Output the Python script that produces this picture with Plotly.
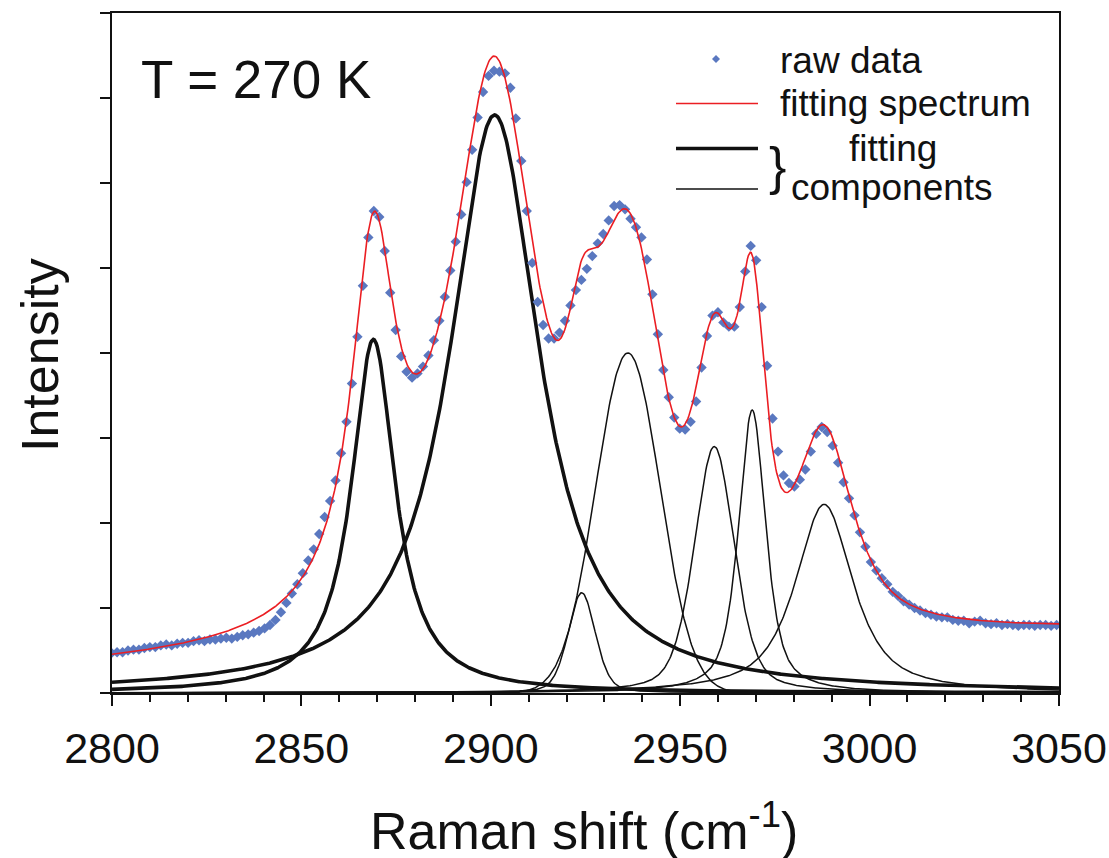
import numpy as np
import plotly.graph_objects as go

# ---- data ----
# raw spectrum: uniformly sampled, first point and step (cm-1), intensities in y-tick units
raw_x0 = 2799.9
raw_step = 1.442
raw_y = [
    0.47, 0.48, 0.48, 0.50, 0.51, 0.51, 0.53, 0.54, 0.54, 0.56,
    0.57, 0.56, 0.58, 0.59, 0.59, 0.61, 0.62, 0.61, 0.63, 0.63,
    0.64, 0.65, 0.64, 0.66, 0.68, 0.69, 0.71, 0.73, 0.76, 0.80,
    0.86, 0.95, 1.06,
    1.17, 1.28, 1.41, 1.56, 1.69, 1.87, 2.07, 2.26, 2.50, 2.82,
    3.19, 3.64, 4.19, 4.79, 5.36, 5.67, 5.60, 5.20, 4.71, 4.27,
    3.96, 3.78, 3.71, 3.76, 3.84, 3.97, 4.15, 4.38, 4.66, 4.97,
    5.31, 5.63, 6.01, 6.39, 6.77, 7.07, 7.26, 7.32, 7.31, 7.29,
    7.12, 6.76, 6.26, 5.67, 5.06, 4.60, 4.33, 4.17, 4.17, 4.24,
    4.38, 4.56, 4.74, 4.86, 4.99, 5.14, 5.29, 5.40, 5.56, 5.73,
    5.74, 5.69, 5.58, 5.48, 5.36, 5.10, 4.69, 4.22, 3.80, 3.48,
    3.24, 3.11, 3.10, 3.19, 3.43, 3.83, 4.20, 4.44, 4.48, 4.36,
    4.31, 4.31, 4.54, 4.96, 5.26, 5.09, 4.54, 3.85, 3.23, 2.84,
    2.56, 2.47, 2.43, 2.51, 2.63, 2.84, 3.05, 3.13, 3.07, 2.91,
    2.71, 2.48, 2.29, 2.09, 1.89, 1.72, 1.54, 1.44, 1.35, 1.28,
    1.19, 1.14, 1.08, 1.04, 1.00, 0.97, 0.94, 0.92, 0.90, 0.89,
    0.89, 0.86, 0.85, 0.85, 0.82,
    0.84, 0.85, 0.82, 0.81, 0.82, 0.80, 0.81, 0.80, 0.79, 0.80,
    0.80, 0.79, 0.80, 0.80, 0.79, 0.80,
]

# fitted peak table: centre (cm-1), height (y tick units), FWHM (cm-1), Lorentz fraction
peak_centres = [2869.0, 2901.0, 2924.0, 2936.2, 2959.0, 2969.0, 2988.0]
peak_heights = [4.16, 6.80, 1.18, 4.00, 2.90, 3.33, 2.22]
peak_fwhm = [14.0, 28.5, 8.5, 20.0, 12.5, 8.5, 18.0]
peak_eta = [1.0, 0.95, 0.3, 0.0, 0.4, 0.65, 0.8]
peak_thick = [True, True, False, False, False, False, False]
baseline_ends = [0.28, 0.70]          # linear background at 2800 and 3050
x_range = [2800, 3050]
x_ticks = [2800, 2850, 2900, 2950, 3000, 3050]

FONT = "Liberation Sans, Arial, sans-serif"
INK = "#111111"
RED = "rgb(235,30,35)"
BLUE = "#5a78c0"

raw_x = raw_x0 + raw_step * np.arange(len(raw_y))
xg = np.linspace(x_range[0], x_range[1], 1001)


def pv(x, c, h, f, eta):
    w = f / 2.0
    u = (x - c) / w
    return h * (eta / (1 + u ** 2) + (1 - eta) * np.exp(-np.log(2) * u ** 2))


def baseline(x):
    return baseline_ends[0] + (baseline_ends[1] - baseline_ends[0]) * (x - x_range[0]) / (x_range[1] - x_range[0])


fig = go.Figure()
total = baseline(xg)
for c, h, f, e, thick in zip(peak_centres, peak_heights, peak_fwhm, peak_eta, peak_thick):
    y = pv(xg, c, h, f, e)
    total = total + y
    fig.add_trace(go.Scatter(x=xg, y=y, mode="lines",
                             line=dict(color=INK, width=3.6 if thick else 1.5),
                             showlegend=False, hoverinfo="skip"))

fig.add_trace(go.Scatter(x=raw_x, y=raw_y, mode="markers",
                         marker=dict(symbol="diamond", size=8, color=BLUE, line=dict(width=0)),
                         showlegend=False))
fig.add_trace(go.Scatter(x=xg, y=total, mode="lines",
                         line=dict(color=RED, width=1.6),
                         showlegend=False))

W, H = 1109, 858
L, R, T, B = 112, 50, 13, 165


def px(xp):
    return (xp - L) / (W - L - R)


def py(yp):
    return (H - B - yp) / (H - B - T)


annotations = [
    dict(text="T = 270 K", x=px(139), y=py(80), xanchor="left", yanchor="middle",
         font=dict(size=53, family=FONT, color=INK)),
    dict(text="raw data", x=px(778), y=py(61), xanchor="left", yanchor="middle",
         font=dict(size=37, family=FONT, color=INK)),
    dict(text="fitting spectrum", x=px(778), y=py(104), xanchor="left", yanchor="middle",
         font=dict(size=37, family=FONT, color=INK)),
    dict(text="}", x=px(777), y=py(166), xanchor="center", yanchor="middle",
         font=dict(size=52, family=FONT, color=INK)),
    dict(text="fitting", x=px(893), y=py(149), xanchor="center", yanchor="middle",
         font=dict(size=37, family=FONT, color=INK)),
    dict(text="components", x=px(892), y=py(187), xanchor="center", yanchor="middle",
         font=dict(size=37, family=FONT, color=INK)),
    dict(text="Intensity", x=px(40), y=py(355), xanchor="center", yanchor="middle", textangle=-90,
         font=dict(size=52, family=FONT, color=INK)),
    dict(text="Raman shift (cm<sup>-1</sup>)", x=px(584), y=py(827), xanchor="center", yanchor="middle",
         font=dict(size=52, family=FONT, color=INK)),
]
for a in annotations:
    a.update(xref="paper", yref="paper", showarrow=False)

shapes = [
    dict(type="line", x0=px(676), x1=px(758), y0=py(103.5), y1=py(103.5),
         line=dict(color=RED, width=1.6)),
    dict(type="line", x0=px(676), x1=px(758), y0=py(148.5), y1=py(148.5),
         line=dict(color=INK, width=3.6)),
    dict(type="line", x0=px(676), x1=px(758), y0=py(189), y1=py(189),
         line=dict(color=INK, width=1.5)),
    dict(type="path",
         path=f"M {px(712)} {py(59)} L {px(716)} {py(55)} L {px(720)} {py(59)} L {px(716)} {py(63)} Z",
         fillcolor=BLUE, line=dict(width=0)),
]
for s in shapes:
    s.update(xref="paper", yref="paper")

fig.update_layout(
    width=W, height=H, margin=dict(l=L, r=R, t=T, b=B, autoexpand=False),
    plot_bgcolor="white", paper_bgcolor="white",
    showlegend=False, annotations=annotations, shapes=shapes,
    font=dict(family=FONT, color=INK),
)
fig.update_xaxes(range=x_range, tickvals=x_ticks, ticks="outside", ticklen=11, tickwidth=2,
                 tickcolor=INK, linecolor=INK, linewidth=2, mirror=True, automargin=False,
                 showgrid=False, zeroline=False, tickfont=dict(size=43, family=FONT, color=INK),
                 ticklabelstandoff=5,
                 minor=dict(dtick=10, ticks="outside", ticklen=7, tickwidth=1.5, tickcolor=INK, showgrid=False))
fig.update_yaxes(range=[0, 8], dtick=1, ticks="outside", ticklen=10, tickwidth=2, tickcolor=INK,
                 linecolor=INK, linewidth=2, mirror=True, showgrid=False, zeroline=False,
                 automargin=False, showticklabels=False)

fig.write_html("out.html")
